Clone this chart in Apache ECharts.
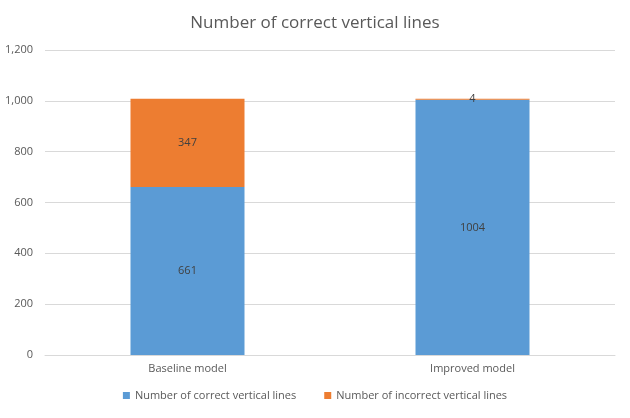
<!DOCTYPE html>
<html>
<head>
<meta charset="utf-8">
<script src="https://cdn.jsdelivr.net/npm/echarts@6/dist/echarts.min.js"></script>
<style>html,body{margin:0;padding:0;background:#fff}#chart{width:630px;height:418px}</style>
</head>
<body>
<div id="chart"></div>
<script>
const categories = ['Baseline model', 'Improved model'];
const correctLines = [661, 1004];
const incorrectLines = [347, 4];
const yTicks = { min: 0, max: 1200, interval: 200 };

const chart = echarts.init(document.getElementById('chart'));
const labelStyle = { show: true, position: 'inside', color: '#404040', fontSize: 11, fontFamily: 'Open Sans' };

chart.setOption({
    animation: false,
    textStyle: { fontFamily: 'Open Sans' },
    title: {
        text: 'Number of correct vertical lines',
        left: 'center', top: 10,
        textStyle: { color: '#595959', fontSize: 17, fontWeight: 'normal' }
    },
    grid: { left: 45, right: 15, top: 50, bottom: 63 },
    legend: {
        bottom: 12, itemWidth: 7, itemHeight: 7, itemGap: 28,
        icon: 'rect',
        textStyle: { color: '#595959', fontSize: 11 }
    },
    xAxis: {
        type: 'category', data: categories,
        axisLine: { lineStyle: { color: '#d9d9d9' } },
        axisTick: { show: false },
        axisLabel: { color: '#595959', fontSize: 11 }
    },
    yAxis: {
        type: 'value', min: yTicks.min, max: yTicks.max, interval: yTicks.interval,
        axisLine: { show: false },
        axisLabel: { color: '#595959', fontSize: 11, margin: 12 },
        splitLine: { lineStyle: { color: '#d9d9d9' } }
    },
    series: [
        {
            name: 'Number of correct vertical lines', type: 'bar', stack: 'total',
            data: correctLines, barWidth: '40%',
            itemStyle: { color: '#5B9BD5' }, label: labelStyle
        },
        {
            name: 'Number of incorrect vertical lines', type: 'bar', stack: 'total',
            data: incorrectLines, barWidth: '40%',
            itemStyle: { color: '#ED7D31' }, label: labelStyle
        }
    ]
});
</script>
</body>
</html>
